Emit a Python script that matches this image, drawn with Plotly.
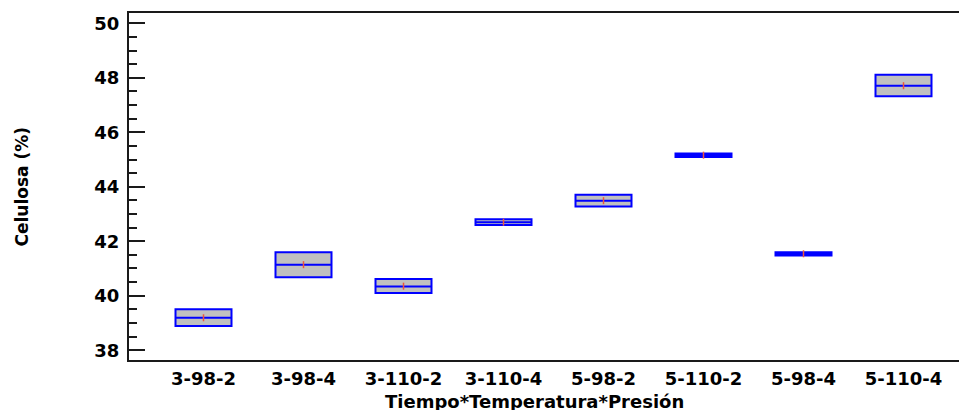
import plotly.graph_objects as go

# Data
categories = ["3-98-2", "3-98-4", "3-110-2", "3-110-4", "5-98-2", "5-110-2", "5-98-4", "5-110-4"]
minimum = [38.89, 40.68, 40.10, 42.60, 43.28, 45.09, 41.48, 47.32]
maximum = [39.50, 41.60, 40.61, 42.81, 43.71, 45.22, 41.60, 48.11]
median = [39.19, 41.14, 40.34, 42.70, 43.49, 45.16, 41.54, 47.71]
mean = [39.19, 41.14, 40.35, 42.70, 43.49, 45.16, 41.54, 47.71]

y_ticks = [38, 40, 42, 44, 46, 48, 50]
x_title = "Tiempo*Temperatura*Presión"
y_title = "Celulosa (%)"

FONT = "DejaVu Sans"
AXIS = "#1a1a1a"
yrange = [37.64, 50.38]

fig = go.Figure()
fig.add_trace(go.Box(
    x=categories,
    q1=minimum, q3=maximum, median=median,
    lowerfence=minimum, upperfence=maximum,
    fillcolor="#c0c0c0",
    line=dict(color="#0000ff", width=2),
    whiskerwidth=0.25,
    boxpoints=False,
    showlegend=False,
    hoverinfo="skip",
))
fig.add_trace(go.Scatter(
    x=categories, y=mean, mode="markers",
    marker=dict(symbol="line-ns-open", size=5, line=dict(color="#b03a3a", width=1.5)),
    showlegend=False, hoverinfo="skip",
))

# page has an 8px body margin, so figure is offset by 8px
fig.update_layout(
    width=959, height=402,
    margin=dict(l=121, r=0, t=5, b=50),
    paper_bgcolor="white", plot_bgcolor="white",
    boxgap=0.2,
    font=dict(family=FONT, size=18, color="black"),
    xaxis=dict(
        type="category", range=[-0.745, 7.635],
        showgrid=False, zeroline=False,
        showline=True, linecolor=AXIS, linewidth=2, mirror=True,
        ticks="", ticklabelstandoff=1,
        tickfont=dict(family=FONT, size=18, color="black", weight="bold"),
    ),
    yaxis=dict(
        range=yrange, tickvals=y_ticks,
        showgrid=False, zeroline=False,
        showline=True, linecolor=AXIS, linewidth=2,
        ticks="inside", ticklen=16, tickwidth=1.5, tickcolor=AXIS,
        minor=dict(dtick=0.5, ticks="inside", ticklen=8, tickwidth=1.5, tickcolor=AXIS, showgrid=False),
        ticklabelstandoff=4,
        tickfont=dict(family=FONT, size=18, color="black", weight="bold"),
    ),
    yaxis2=dict(
        overlaying="y", side="right", range=yrange, tickvals=y_ticks,
        showgrid=False, zeroline=False, showline=False,
        ticks="inside", ticklen=4, tickwidth=2, tickcolor=AXIS,
        showticklabels=False,
    ),
    annotations=[
        dict(text=x_title, xref="paper", yref="paper",
             x=(534 - 129) / 838, y=(360 - 401) / 347,
             xanchor="center", yanchor="middle", showarrow=False,
             font=dict(family=FONT, size=18, color="black", weight="bold")),
        dict(text=y_title, xref="paper", yref="paper",
             x=(21 - 129) / 838, y=0.5, textangle=-90,
             xanchor="center", yanchor="middle", showarrow=False,
             font=dict(family=FONT, size=17, color="black", weight="bold")),
    ],
)

fig.write_html("out.html")
